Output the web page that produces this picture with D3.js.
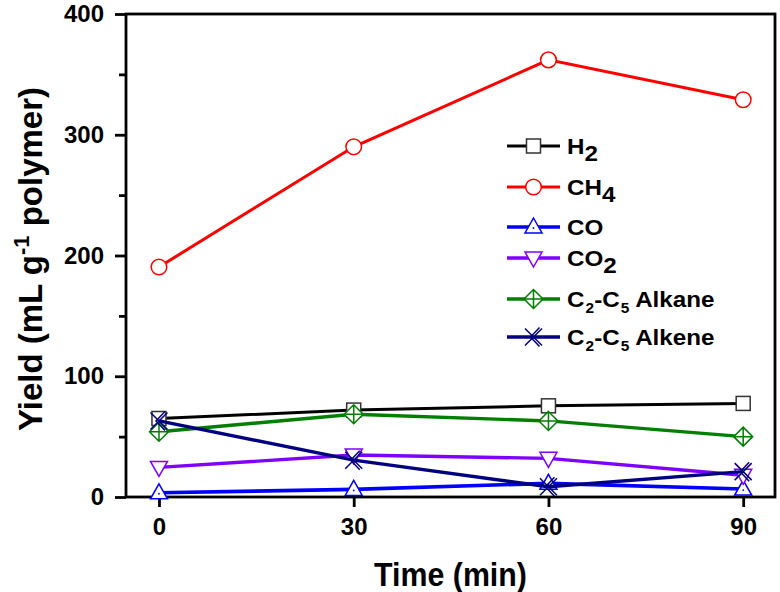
<!DOCTYPE html>
<html><head><meta charset="utf-8">
<script src="https://cdn.jsdelivr.net/npm/d3@7"></script>
<style>body{margin:0;background:#fff}svg{display:block}text{font-family:"Liberation Sans",Arial,sans-serif;font-weight:bold}</style>
</head><body>
<svg id="c" width="780" height="592"></svg>
<script>
const times = [0, 30, 60, 90];
const seriesNames = ["H2", "CH4", "CO", "CO2", "C2-C5 Alkane", "C2-C5 Alkene"];
const h2 = [65, 72, 75.5, 77.5];
const ch4 = [190.5, 290, 362, 329];
const co = [3.5, 6.3, 11.3, 6.6];
const co2 = [24.5, 34.8, 32, 18];
const alkane = [54, 68.5, 63, 50];
const alkene = [63, 30.5, 8.5, 21];
const xTicks = [0, 30, 60, 90];
const yTicks = [0, 100, 200, 300, 400];
const yMinorTicks = [50, 150, 250, 350];

const values = [h2, ch4, co, co2, alkane, alkene];
const colors = ["#000000", "#ff0000", "#0000ff", "#7f00ff", "#007f00", "#000080"];
const widths = [3, 3, 3.6, 3.4, 3.4, 3.4];
const markers = ["square", "circle", "triangle", "triangleDown", "diamondPlus", "cross"];

const svg = d3.select("#c");
const L = 126, R = 775, T = 14, B = 497;
const x = d3.scaleLinear().domain([-5.08, 94.9]).range([L, R]);
const y = d3.scaleLinear().domain([0, 400]).range([B, T]);

// axes
const xa = svg.append("g").attr("transform", `translate(0,${B})`)
  .call(d3.axisBottom(x).tickValues(xTicks).tickSize(10).tickPadding(11).tickFormat(d3.format("d")));
const ya = svg.append("g").attr("transform", `translate(${L},0)`)
  .call(d3.axisLeft(y).tickValues(yTicks).tickSize(11).tickPadding(11).tickFormat(d3.format("d")));
const ym = svg.append("g").attr("transform", `translate(${L},0)`)
  .call(d3.axisLeft(y).tickValues(yMinorTicks).tickSize(7).tickFormat(""));
[xa, ya, ym].forEach(g => {
  g.select(".domain").remove();
  g.selectAll(".tick line").attr("stroke", "#000").attr("stroke-width", 2.8);
  g.selectAll(".tick text").attr("font-size", 24).attr("fill", "#000");
});
svg.append("rect").attr("x", L).attr("y", T).attr("width", R - L).attr("height", B - T)
  .attr("fill", "none").attr("stroke", "#000").attr("stroke-width", 2.8);

// titles
svg.append("text").attr("transform", `translate(${(L + R) / 2},586) scale(0.92,1)`)
  .attr("text-anchor", "middle").attr("font-size", 33).text("Time (min)");
const yt = svg.append("text").attr("transform", `translate(42,259) rotate(-90)`)
  .attr("text-anchor", "middle").attr("font-size", 33);
yt.append("tspan").text("Yield (mL g");
yt.append("tspan").attr("font-size", 22).attr("dy", -13).text("-1");
yt.append("tspan").attr("dy", 13).text(" polymer)");

function drawMarker(g, type, color, cx, cy) {
  const s = g.append("g").attr("transform", `translate(${cx},${cy})`)
    .attr("fill", "#fff").attr("stroke", color).attr("stroke-width", 1.5);
  if (type === "square") s.append("rect").attr("x", -7).attr("y", -7).attr("width", 14).attr("height", 14).attr("stroke", "#333");
  else if (type === "circle") s.append("circle").attr("r", 7.8);
  else if (type === "triangle") {
    s.append("path").attr("d", "M0,-9L8.5,6L-8.5,6Z");
    s.append("circle").attr("r", 0.9).attr("fill", color).attr("stroke", "none").attr("cy", 1);
  } else if (type === "triangleDown") s.append("path").attr("d", "M0,9L8.5,-6L-8.5,-6Z");
  else if (type === "diamondPlus") s.append("path").attr("d", "M0,-9.5L9.5,0L0,9.5L-9.5,0ZM0,-9.5V9.5M-9.5,0H9.5");
  else if (type === "cross") s.append("path").attr("fill", "none").attr("d", "M-8.5,-8.5L8.5,8.5M8.5,-8.5L-8.5,8.5M6,-9.5L-3,0L6,9.5");
}

const line = d3.line().x((d, i) => x(times[i])).y(d => y(d));
values.forEach((vals, k) => {
  const g = svg.append("g");
  g.append("path").datum(vals).attr("d", line).attr("fill", "none")
    .attr("stroke", colors[k]).attr("stroke-width", widths[k]);
  vals.forEach((v, i) => drawMarker(g, markers[k], colors[k], x(times[i]), y(v)));
});

// legend
const legY = [146, 187, 227, 258, 299, 337];
const lx0 = 507, lx1 = 560, tx = 567;
seriesNames.forEach((name, k) => {
  const g = svg.append("g");
  const yy = legY[k];
  g.append("line").attr("x1", lx0).attr("x2", lx1).attr("y1", yy).attr("y2", yy)
    .attr("stroke", colors[k]).attr("stroke-width", widths[k]);
  drawMarker(g, markers[k], colors[k], (lx0 + lx1) / 2, yy);
  const t = g.append("text").attr("transform", `translate(${tx},${yy + 8}) scale(1.1,1)`)
    .attr("font-size", 22).attr("fill", "#000");
  const m = name.match(/^([A-Z]+)(\d)$/);
  if (name.startsWith("C2")) {
    t.append("tspan").text("C");
    t.append("tspan").attr("font-size", 14).attr("dy", 6).attr("dx", 1).text("2");
    t.append("tspan").attr("dy", -6).text("-C");
    t.append("tspan").attr("font-size", 14).attr("dy", 6).attr("dx", 1).text("5");
    t.append("tspan").attr("dy", -6).text(name.slice(5));
  } else if (m) {
    t.append("tspan").text(m[1]);
    t.append("tspan").attr("font-size", 22).attr("dy", 7).text(m[2]);
  } else {
    t.text(name);
  }
});
</script>
</body></html>
